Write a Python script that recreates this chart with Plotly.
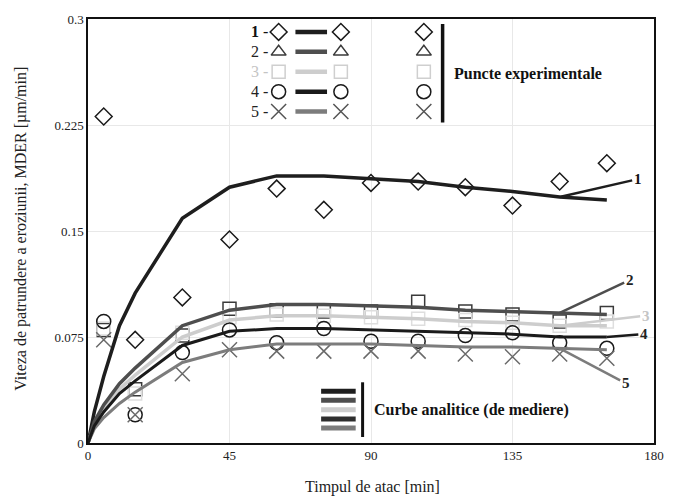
import plotly.graph_objects as go

# ---------------- data ----------------
t_pts = [5, 15, 30, 45, 60, 75, 90, 105, 120, 135, 150, 165]
pts1 = [0.231, 0.073, 0.103, 0.144, 0.180, 0.165, 0.184, 0.185, 0.181, 0.168, 0.185, 0.198]
pts2 = [0.080, 0.038, 0.076, 0.095, 0.094, 0.093, 0.093, 0.100, 0.093, 0.091, 0.086, 0.092]
pts3 = [0.081, 0.035, 0.078, 0.089, 0.091, 0.090, 0.089, 0.088, 0.087, 0.085, 0.083, 0.086]
pts4 = [0.086, 0.020, 0.064, 0.080, 0.071, 0.081, 0.072, 0.072, 0.076, 0.078, 0.071, 0.067]
pts5 = [0.073, 0.020, 0.049, 0.066, 0.065, 0.065, 0.065, 0.065, 0.063, 0.061, 0.063, 0.060]

t_curve = [0, 2, 5, 10, 15, 30, 45, 60, 75, 90, 105, 120, 135, 150, 165]
curve1 = [0, 0.022, 0.047, 0.083, 0.106, 0.159, 0.181, 0.189, 0.189, 0.187, 0.185, 0.181, 0.178, 0.174, 0.172]
curve2 = [0, 0.015, 0.027, 0.042, 0.053, 0.083, 0.094, 0.098, 0.098, 0.097, 0.096, 0.094, 0.093, 0.092, 0.091]
curve3 = [0, 0.013, 0.024, 0.038, 0.048, 0.075, 0.087, 0.090, 0.090, 0.089, 0.088, 0.086, 0.085, 0.083, 0.083]
curve4 = [0, 0.012, 0.022, 0.035, 0.044, 0.069, 0.079, 0.081, 0.081, 0.080, 0.079, 0.078, 0.077, 0.075, 0.075]
curve5 = [0, 0.010, 0.018, 0.028, 0.036, 0.057, 0.066, 0.070, 0.070, 0.070, 0.069, 0.068, 0.068, 0.067, 0.066]

x_ticks = [0, 45, 90, 135, 180]
y_ticks = [0, 0.075, 0.15, 0.225, 0.3]
y_ticktext = ["0", "0.075", "0.15", "0.225", "0.3"]

series_labels = ["1", "2", "3", "4", "5"]
FONT = "Liberation Serif"

# ---------------- styles ----------------
curve_colors = ["#1e1e1e", "#4e4e4e", "#cdcdcd", "#1a1a1a", "#7c7c7c"]
curve_widths = [3.5, 3.5, 3.5, 3, 3]
mark_colors = ["#1a1a1a", "#3a3a3a", "#dedede", "#1a1a1a", "#6a6a6a"]
plot_symbols = ["diamond-open", "square-open", "square-open", "circle-open", "x-thin-open"]
legend_symbols = ["diamond-open", "triangle-up-open", "square-open", "circle-open", "x-thin-open"]
mark_sizes = [13, 13, 13, 14, 15]
label_colors = ["#111111", "#222222", "#c4c4c4", "#222222", "#222222"]

pts_all = [pts1, pts2, pts3, pts4, pts5]
curves_all = [curve1, curve2, curve3, curve4, curve5]

fig = go.Figure()

# experimental points
for i in range(5):
    fig.add_trace(go.Scatter(
        x=t_pts, y=pts_all[i], mode="markers",
        marker=dict(symbol=plot_symbols[i], size=mark_sizes[i], color=mark_colors[i],
                    line=dict(width=1.5, color=mark_colors[i])),
        showlegend=False, hoverinfo="skip"))

# analytic curves
for i in [0, 2, 1, 4, 3]:
    fig.add_trace(go.Scatter(
        x=t_curve, y=curves_all[i], mode="lines",
        line=dict(color=curve_colors[i], width=curve_widths[i]),
        showlegend=False, hoverinfo="skip"))

# ---------------- custom legends (pixel-like overlay axis) ----------------
L, R, T, B = 88, 661, 17, 443
row_y = [30, 50, 70, 90, 110]
for i in range(5):
    y = row_y[i]
    fig.add_trace(go.Scatter(x=[298, 330], y=[y, y], mode="lines", xaxis="x2", yaxis="y2",
                             line=dict(color=curve_colors[i], width=4.5),
                             showlegend=False, hoverinfo="skip"))
    lc = mark_colors[i] if i not in (2, 4) else ("#cfcfcf" if i == 2 else "#555555")
    fig.add_trace(go.Scatter(x=[281, 344, 428], y=[y, y, y], mode="markers", xaxis="x2", yaxis="y2",
                             marker=dict(symbol=legend_symbols[i], size=mark_sizes[i],
                                         color=lc, line=dict(width=1.5, color=lc)),
                             showlegend=False, hoverinfo="skip"))
fig.add_trace(go.Scatter(x=[447, 447], y=[22, 121], mode="lines", xaxis="x2", yaxis="y2",
                         line=dict(color="#111111", width=3.5), showlegend=False, hoverinfo="skip"))
bot_rows = [391, 400, 409.5, 419, 428]
for i in range(5):
    fig.add_trace(go.Scatter(x=[324, 359], y=[bot_rows[i], bot_rows[i]], mode="lines", xaxis="x2", yaxis="y2",
                             line=dict(color=curve_colors[i] if i != 3 else "#2e2e2e", width=5),
                             showlegend=False, hoverinfo="skip"))
fig.add_trace(go.Scatter(x=[366, 366], y=[382, 437], mode="lines", xaxis="x2", yaxis="y2",
                         line=dict(color="#111111", width=3), showlegend=False, hoverinfo="skip"))

annotations = []
for i in range(5):
    annotations.append(dict(xref="x2", yref="y2", x=262, y=row_y[i], text=series_labels[i] + " -",
                            showarrow=False, xanchor="center", yanchor="middle",
                            font=dict(family=FONT, size=16, color=label_colors[i])))
annotations[0]["text"] = "<b>1</b> -"
annotations.append(dict(xref="x2", yref="y2", x=456, y=72, text="<b>Puncte experimentale</b>",
                        showarrow=False, xanchor="left", yanchor="middle",
                        font=dict(family=FONT, size=16, color="#111111")))
annotations.append(dict(xref="x2", yref="y2", x=376, y=410, text="<b>Curbe analitice (de mediere)</b>",
                        showarrow=False, xanchor="left", yanchor="middle",
                        font=dict(family=FONT, size=16, color="#111111")))

# leader labels on curves
leaders = [
    (0, 13, 78, -18, "<b>1</b>"),
    (1, 13, 70, -33, "<b>2</b>"),
    (2, 13, 86, -10, "<b>3</b>"),
    (3, 14, 37, -3, "<b>4</b>"),
    (4, 13, 66, 35, "<b>5</b>"),
]
for i, idx, ax, ay, txt in leaders:
    annotations.append(dict(xref="x", yref="y", x=t_curve[idx], y=curves_all[i][idx], text=txt,
                            showarrow=True, arrowhead=0, arrowwidth=2.5,
                            arrowcolor=curve_colors[i], ax=ax, ay=ay, standoff=0,
                            font=dict(family=FONT, size=15, color=label_colors[i])))

# axis titles
annotations.append(dict(xref="paper", yref="paper", x=(20 - L) / (R - L), y=(B - 228) / (B - T),
                        text="Viteza de patrundere a eroziunii, MDER [µm/min]", textangle=-90,
                        showarrow=False, xanchor="center", yanchor="middle",
                        font=dict(family=FONT, size=16, color="#222222")))
annotations.append(dict(xref="paper", yref="paper", x=(376 - L) / (R - L), y=(B - 487) / (B - T),
                        text="Timpul de atac [min]",
                        showarrow=False, xanchor="center", yanchor="middle",
                        font=dict(family=FONT, size=16, color="#222222")))

fig.update_layout(
    width=676, height=500,
    margin=dict(l=L, r=676 - R, t=T, b=500 - B),
    paper_bgcolor="white", plot_bgcolor="white",
    showlegend=False,
    annotations=annotations,
    xaxis=dict(range=[0, 180], tickvals=x_ticks, showgrid=True, gridcolor="#e8e8e8", gridwidth=1,
               showline=True, linecolor="#111111", linewidth=1.5, mirror=True, zeroline=False,
               ticks="", tickfont=dict(family=FONT, size=13, color="#222222")),
    yaxis=dict(range=[0, 0.3], tickvals=y_ticks, ticktext=y_ticktext, showgrid=True,
               gridcolor="#e8e8e8", gridwidth=1,
               showline=True, linecolor="#111111", linewidth=1.5, mirror=True, zeroline=False,
               ticks="", tickfont=dict(family=FONT, size=13, color="#222222")),
    xaxis2=dict(range=[L, R], overlaying="x", visible=False, fixedrange=True),
    yaxis2=dict(range=[B, T], overlaying="y", visible=False, fixedrange=True),
)

fig.write_html("out.html")
